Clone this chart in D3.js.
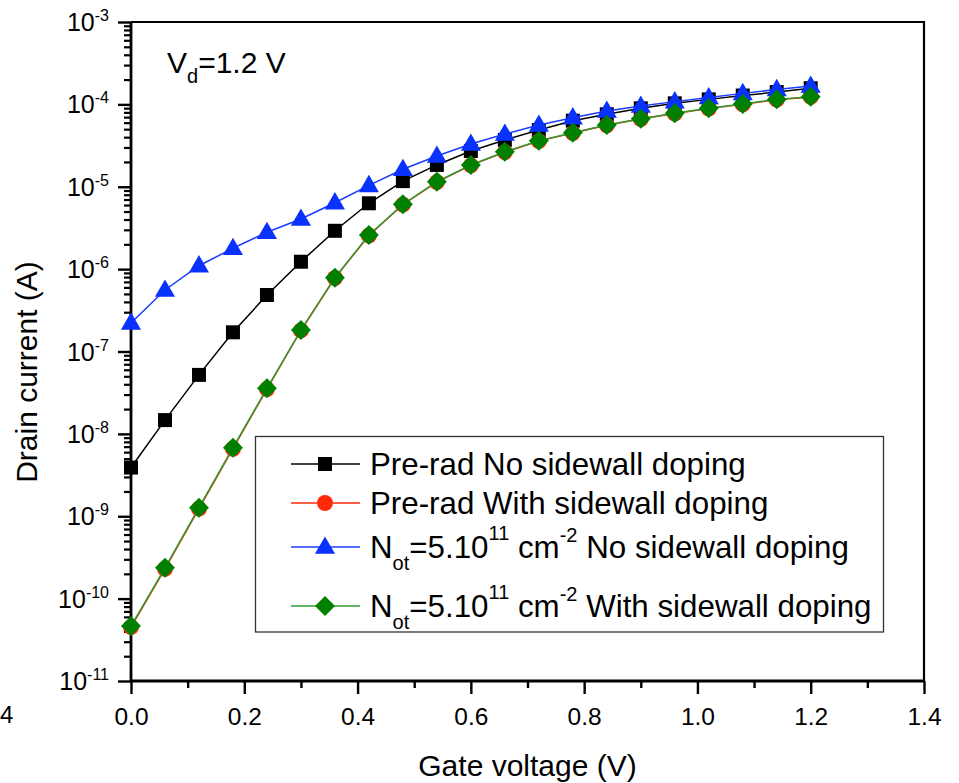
<!DOCTYPE html>
<html>
<head>
<meta charset="utf-8">
<script src="https://cdn.jsdelivr.net/npm/d3@7"></script>
<style>
  html, body { margin: 0; padding: 0; background: #fff; }
  svg { display: block; font-family: "Liberation Sans", Arial, sans-serif; }
</style>
</head>
<body>
<svg id="chart" width="959" height="783"></svg>
<script>
// Gate voltage sweep (V)
const gateVoltage = [0.00, 0.06, 0.12, 0.18, 0.24, 0.30, 0.36, 0.42, 0.48, 0.54, 0.60,
                     0.66, 0.72, 0.78, 0.84, 0.90, 0.96, 1.02, 1.08, 1.14, 1.20];

// Drain current (A) for each device condition
const preRadNoSidewall = [3.9e-9, 1.47e-8, 5.2e-8, 1.71e-7, 4.85e-7, 1.23e-6, 2.92e-6, 6.3e-6, 1.17e-5, 1.84e-5, 2.72e-5,
                          3.7e-5, 4.89e-5, 6.34e-5, 7.58e-5, 8.96e-5, 1.03e-4, 1.15e-4, 1.28e-4, 1.41e-4, 1.57e-4];
const preRadWithSidewall = [4.5e-11, 2.3e-10, 1.24e-9, 6.6e-9, 3.5e-8, 1.8e-7, 7.8e-7, 2.56e-6, 6.05e-6, 1.14e-5, 1.82e-5,
                            2.63e-5, 3.58e-5, 4.49e-5, 5.57e-5, 6.64e-5, 7.74e-5, 8.9e-5, 1.0e-4, 1.14e-4, 1.23e-4];
const notNoSidewall = [2.22e-7, 5.58e-7, 1.1e-6, 1.79e-6, 2.8e-6, 4.06e-6, 6.4e-6, 1.04e-5, 1.63e-5, 2.36e-5, 3.3e-5,
                       4.37e-5, 5.62e-5, 6.89e-5, 8.31e-5, 9.55e-5, 1.08e-4, 1.21e-4, 1.36e-4, 1.52e-4, 1.67e-4];
const notWithSidewall = [4.65e-11, 2.37e-10, 1.27e-9, 6.79e-9, 3.57e-8, 1.82e-7, 7.87e-7, 2.59e-6, 6.12e-6, 1.15e-5, 1.84e-5,
                         2.66e-5, 3.62e-5, 4.53e-5, 5.62e-5, 6.7e-5, 7.8e-5, 8.96e-5, 1.01e-4, 1.15e-4, 1.24e-4];

// Axis ticks
const xMajorTicks = [0.0, 0.2, 0.4, 0.6, 0.8, 1.0, 1.2, 1.4];
const xMinorTicks = [0.1, 0.3, 0.5, 0.7, 0.9, 1.1, 1.3];
const yDecadeExponents = [-11, -10, -9, -8, -7, -6, -5, -4, -3];

const seriesNames = ["Pre-rad No sidewall doping", "Pre-rad With sidewall doping",
                     "No sidewall doping", "With sidewall doping"];

const series = [
  { name: seriesNames[0], values: preRadNoSidewall, line: "#000000", fill: "#000000", shape: "square" },
  { name: seriesNames[1], values: preRadWithSidewall, line: "#ff2a0a", fill: "#ff2a0a", shape: "circle" },
  { name: seriesNames[2], values: notNoSidewall, line: "#1a3cff", fill: "#0a32ff", shape: "triangle" },
  { name: seriesNames[3], values: notWithSidewall, line: "#2f9a2f", fill: "#008000", shape: "diamond" }
];

const svg = d3.select("#chart");
const plotL = 131, plotR = 924, plotT = 22, plotB = 681;

const x = d3.scaleLinear().domain([0, 1.4]).range([plotL, plotR]);
const y = d3.scaleLog().domain([1e-11, 1e-3]).range([plotB, plotT]);

// Frame on top and right
svg.append("path")
  .attr("d", `M${plotL},${plotT}H${plotR}V${plotB}`)
  .attr("fill", "none").attr("stroke", "#000").attr("stroke-width", 2.2);

// X axis: major + minor ticks
const xAxisMajor = d3.axisBottom(x).tickValues(xMajorTicks).tickSize(13).tickPadding(8)
  .tickFormat(d3.format(".1f"));
const gx = svg.append("g").attr("transform", `translate(0,${plotB})`).call(xAxisMajor);
gx.select(".domain").remove();
gx.selectAll(".tick line").attr("stroke-width", 2.4);
gx.selectAll(".tick text").attr("font-size", 24.5).attr("fill", "#000")
  .attr("font-family", "Liberation Sans, Arial, sans-serif").attr("dy", "0.93em");
const gxMinor = svg.append("g").attr("transform", `translate(0,${plotB})`)
  .call(d3.axisBottom(x).tickValues(xMinorTicks).tickSize(7).tickFormat(""));
gxMinor.select(".domain").remove();
gxMinor.selectAll(".tick line").attr("stroke-width", 2.4);

// Y axis: decades with minor ticks 2..9
const yMajorVals = yDecadeExponents.map(e => Math.pow(10, e));
const yMinorVals = [];
yDecadeExponents.slice(0, -1).forEach(e => {
  for (let k = 2; k <= 9; k++) yMinorVals.push(k * Math.pow(10, e));
});
const gy = svg.append("g").attr("transform", `translate(${plotL},0)`)
  .call(d3.axisLeft(y).tickValues(yMajorVals).tickSize(13).tickPadding(23).tickFormat(""));
gy.select(".domain").remove();
gy.selectAll(".tick line").attr("stroke-width", 2.4);
gy.selectAll(".tick").each(function(d) {
  const e = Math.round(Math.log10(d));
  const t = d3.select(this).append("text")
    .attr("x", -22).attr("y", 8.5).attr("text-anchor", "end")
    .attr("font-size", 25).attr("fill", "#000")
    .attr("font-family", "Liberation Sans, Arial, sans-serif");
  t.append("tspan").text("10");
  t.append("tspan").attr("font-size", 16).attr("dy", -10).text(String(e));
});
const gyMinor = svg.append("g").attr("transform", `translate(${plotL},0)`)
  .call(d3.axisLeft(y).tickValues(yMinorVals).tickSize(7).tickFormat(""));
gyMinor.select(".domain").remove();
gyMinor.selectAll(".tick line").attr("stroke-width", 2.2);

// Axis lines
svg.append("line").attr("x1", plotL).attr("x2", plotL).attr("y1", plotT).attr("y2", plotB + 1)
  .attr("stroke", "#000").attr("stroke-width", 2.8);
svg.append("line").attr("x1", plotL - 1).attr("x2", plotR).attr("y1", plotB).attr("y2", plotB)
  .attr("stroke", "#000").attr("stroke-width", 2.8);

// Marker shapes
const symbolFor = {
  square: d3.symbol().type(d3.symbolSquare).size(196),
  circle: d3.symbol().type(d3.symbolCircle).size(200),
  triangle: d3.symbol().type(d3.symbolTriangle).size(175),
  diamond: d3.symbol().type(d3.symbolSquare).size(200)
};
function drawMarker(g, shape, fill, cx, cy) {
  const p = g.append("path").attr("d", symbolFor[shape]()).attr("fill", fill);
  if (shape === "diamond") p.attr("transform", `translate(${cx},${cy}) rotate(45)`);
  else if (shape === "triangle") p.attr("transform", `translate(${cx},${cy + 1})`);
  else p.attr("transform", `translate(${cx},${cy})`);
}

const line = d3.line().x(d => x(d[0])).y(d => y(d[1]));
const plot = svg.append("g");
series.forEach(s => {
  const pts = gateVoltage.map((v, i) => [v, s.values[i]]);
  plot.append("path").datum(pts).attr("d", line)
    .attr("fill", "none").attr("stroke", s.line).attr("stroke-width", 1.5);
  pts.forEach(p => drawMarker(plot, s.shape, s.fill, x(p[0]), y(p[1])));
});

// Bias annotation
const vd = svg.append("text").attr("x", 167).attr("y", 73).attr("font-size", 30).attr("fill", "#000");
vd.append("tspan").text("V");
vd.append("tspan").attr("font-size", 20).attr("dy", 10).text("d");
vd.append("tspan").attr("dy", -10).text("=1.2 V");

// Legend
const lg = svg.append("g");
lg.append("rect").attr("x", 255.5).attr("y", 436.5).attr("width", 628).attr("height", 195.5)
  .attr("fill", "#fff").attr("stroke", "#333").attr("stroke-width", 1.3);
const rowY = [464, 503, 547, 606];
series.forEach((s, i) => {
  lg.append("line").attr("x1", 291).attr("x2", 360).attr("y1", rowY[i]).attr("y2", rowY[i])
    .attr("stroke", s.line).attr("stroke-width", 1.5);
  drawMarker(lg, s.shape, s.fill, 325, rowY[i]);
  const t = lg.append("text").attr("x", 370).attr("y", rowY[i] + 11)
    .attr("font-size", 31.3).attr("fill", "#000");
  if (i < 2) {
    t.text(s.name);
  } else {
    t.append("tspan").text("N");
    t.append("tspan").attr("font-size", 20).attr("dy", 12).text("ot");
    t.append("tspan").attr("dy", -12).text("=5.10");
    t.append("tspan").attr("font-size", 20).attr("dy", -18).text("11");
    t.append("tspan").attr("dy", 18).text(" cm");
    t.append("tspan").attr("font-size", 20).attr("dy", -16).text("-2");
    t.append("tspan").attr("dy", 16).text(" " + s.name);
  }
});

// Axis titles
svg.append("text").attr("x", (plotL + plotR) / 2).attr("y", 776).attr("text-anchor", "middle")
  .attr("font-size", 30).attr("fill", "#000").text("Gate voltage (V)");
svg.append("text").attr("transform", "translate(37,372) rotate(-90)").attr("text-anchor", "middle")
  .attr("font-size", 30).attr("fill", "#000").text("Drain current (A)");

// Lone label at the far left edge
svg.append("text").attr("x", 0).attr("y", 723).attr("text-anchor", "start")
  .attr("font-size", 24).attr("fill", "#000").text("4");
</script>
</body>
</html>
